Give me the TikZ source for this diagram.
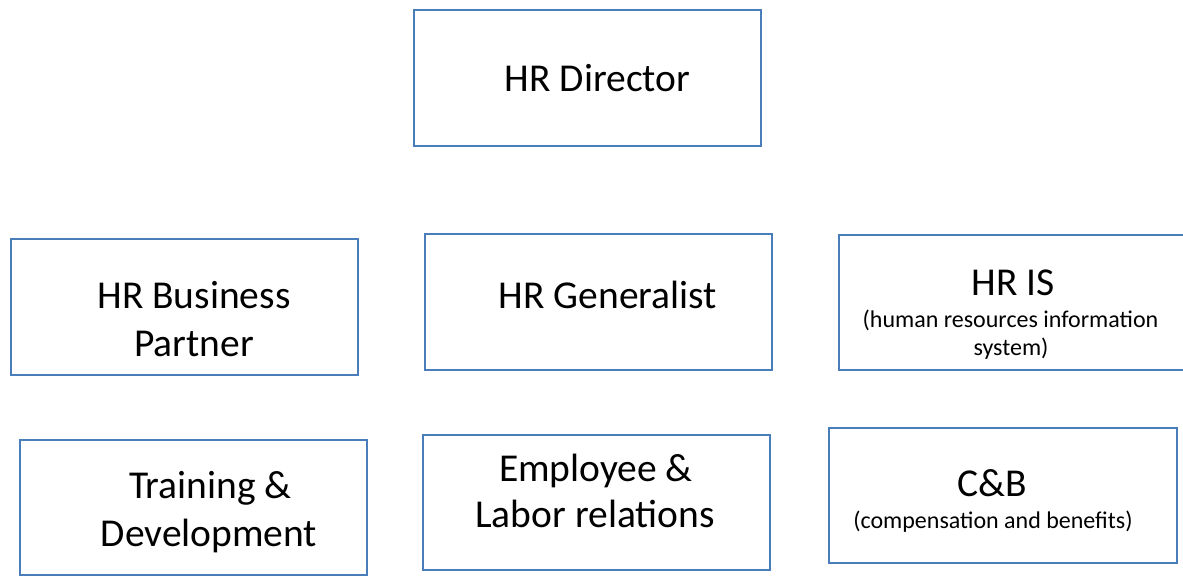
\documentclass[tikz,border=0pt]{standalone}
\usepackage{fontspec}
\setmainfont{Carlito}
\definecolor{boxblue}{RGB}{74,126,187}
\begin{document}
\begin{tikzpicture}[x=1pt,y=-1pt,
  box/.style={draw=boxblue, line width=1.8pt, fill=white, anchor=north west,
    inner sep=0pt, outer sep=0pt},
  big/.style={font=\fontsize{39.5}{48}\selectfont, anchor=base, inner sep=0pt},
  small/.style={font=\fontsize{24}{29}\selectfont, anchor=base, inner sep=0pt}]
\useasboundingbox (0,0) rectangle (1183,578);

% top row
\node[box, minimum width=347pt, minimum height=136pt] (dir) at (414,10) {};
\node[big] (dirT) at (597.5,92) {HR Director};

% middle row
\node[box, minimum width=347pt, minimum height=136pt] (bp) at (11,239) {};
\node[big] (bpT1) at (194,308) {HR Business};
\node[big] (bpT2) at (194,356) {Partner};

\node[box, minimum width=347pt, minimum height=136pt] (gen) at (425,234) {};
\node[big] (genT) at (608,308) {HR Generalist};

\node[box, minimum width=347pt, minimum height=135pt] (is) at (839,235) {};
\node[big] (isT1) at (1013,295) {HR IS};
\node[small] (isT2) at (1010.5,327) {(human resources information};
\node[small] (isT3) at (1011,355) {system)};

% bottom row
\node[box, minimum width=347pt, minimum height=135pt] (td) at (20,440) {};
\node[big] (tdT1) at (210.5,498) {Training \&};
\node[big] (tdT2) at (209,546) {Development};

\node[box, minimum width=347pt, minimum height=135pt] (el) at (423,435) {};
\node[big] (elT1) at (596,481) {Employee \&};
\node[big] (elT2) at (595,527) {Labor relations};

\node[box, minimum width=348pt, minimum height=135pt] (cb) at (829,428) {};
\node[big] (cbT1) at (992.5,496) {C\&B};
\node[small] (cbT2) at (993,528) {(compensation and benefits)};
\end{tikzpicture}
\end{document}
